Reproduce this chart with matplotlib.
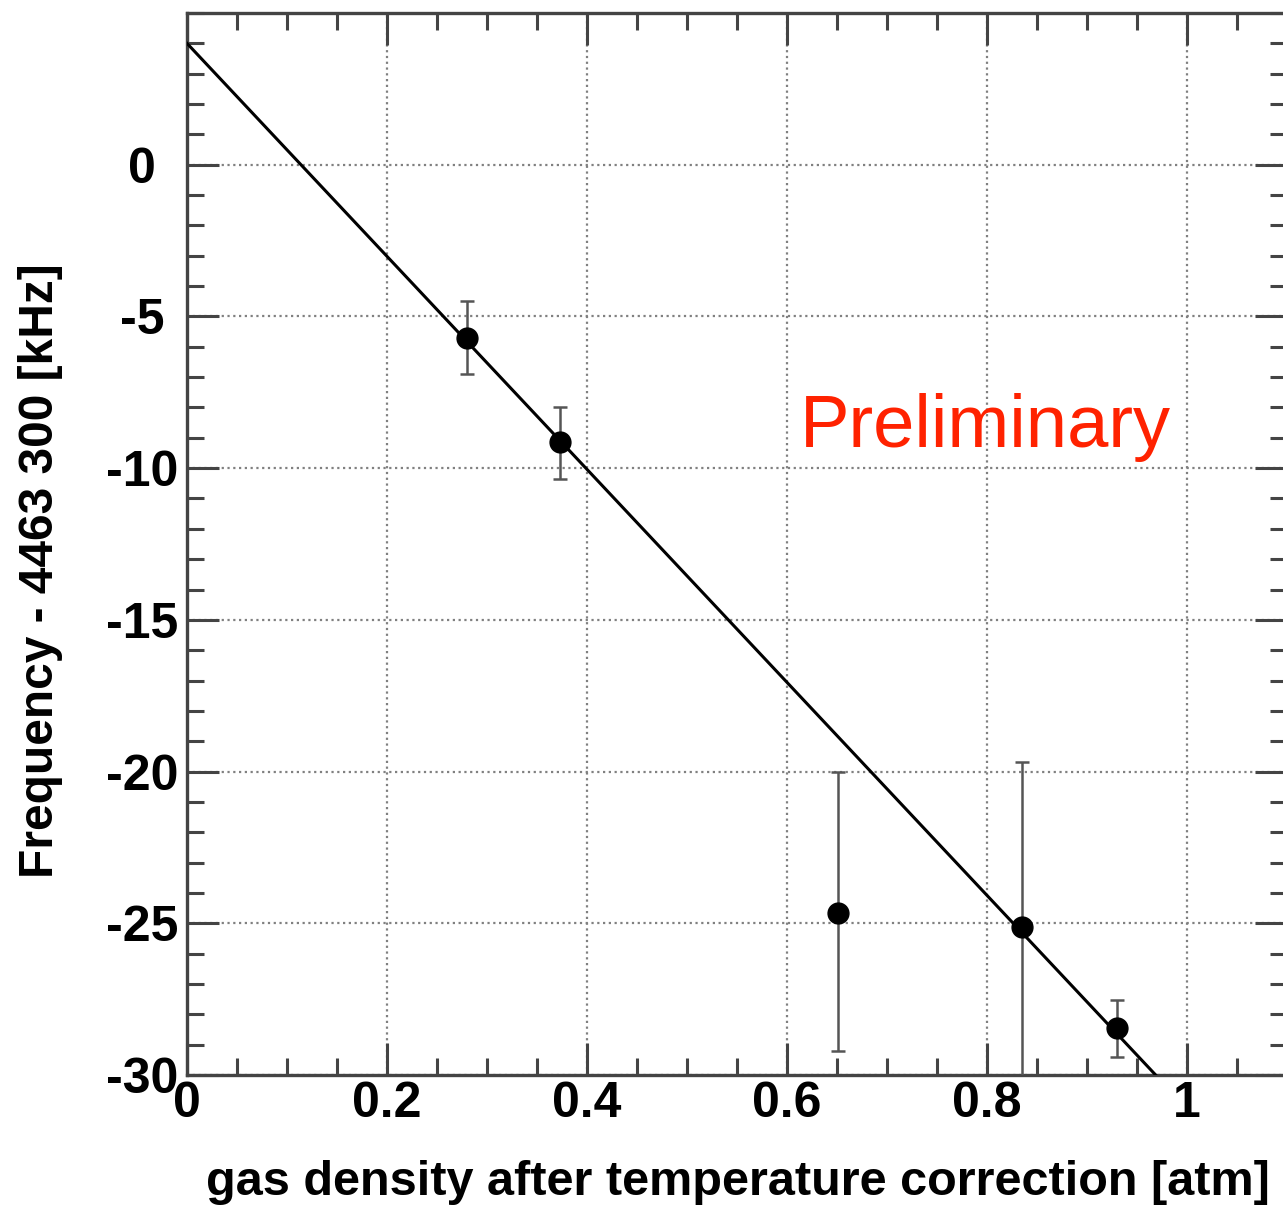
import matplotlib
matplotlib.use("Agg")
import matplotlib.pyplot as plt
import numpy as np
from matplotlib.ticker import MultipleLocator

# Data
density = [0.280, 0.373, 0.651, 0.835, 0.930]
freq = [-5.71, -9.14, -24.65, -25.12, -28.45]
err_lo = [1.19, 1.22, 4.55, 5.5, 0.97]
err_hi = [1.22, 1.15, 4.62, 5.45, 0.93]
fit_intercept = 4.0
fit_slope = -35.1

xticks = [0, 0.2, 0.4, 0.6, 0.8, 1.0]
xtick_labels = ["0", "0.2", "0.4", "0.6", "0.8", "1"]
yticks = [-30, -25, -20, -15, -10, -5, 0]
ytick_labels = ["-30", "-25", "-20", "-15", "-10", "-5", "0"]

xlabel = "gas density after temperature correction [atm]"
ylabel = "Frequency - 4463 300 [kHz]"
stamp = "Preliminary"

plt.rcParams['font.family'] = ['Liberation Sans', 'DejaVu Sans']

W, H = 1283, 1207
fig = plt.figure(figsize=(W / 100, H / 100), dpi=100)
ax = fig.add_axes([187 / W, 1 - 1075 / H, (1287 - 187) / W, (1075 - 13) / H])

ax.set_xlim(0, 1.1)
ax.set_ylim(-30, 5)

xf = np.array([0.0, 1.1])
ax.plot(xf, fit_intercept + fit_slope * xf, color='black', lw=2.2, zorder=3)

ax.errorbar(density, freq, yerr=[err_lo, err_hi], fmt='o', color='black',
            ms=15, ecolor='#555555', elinewidth=1.8, capsize=5, capthick=1.8,
            zorder=4)

ax.xaxis.set_minor_locator(MultipleLocator(0.05))
ax.yaxis.set_minor_locator(MultipleLocator(1))

ax.grid(True, which='major', color='#808080', linestyle=(0, (1, 1.6)), lw=1.6)
ax.set_axisbelow(True)

ax.tick_params(which='both', direction='in', top=True, right=True,
               width=2.2, color='#444444')
ax.tick_params(which='major', length=23)
ax.tick_params(which='minor', length=12)
ax.tick_params(axis='x', which='major', pad=4)
ax.tick_params(axis='y', which='major', pad=32.4)

ax.set_xticks(xticks)
ax.set_xticklabels(xtick_labels, fontweight='bold', fontsize=36)
ax.set_yticks(yticks)
ax.set_yticklabels(ytick_labels, fontweight='bold', fontsize=36, ha='center')

for sp in ax.spines.values():
    sp.set_linewidth(2.4)
    sp.set_color('#444444')

fig.text(1270 / W, 1 - 1195 / H, xlabel, fontsize=35, fontweight='bold',
         ha='right', va='baseline')
fig.text(41 / W, 1 - 571 / H, ylabel, fontsize=34.5, fontweight='bold',
         rotation=90, ha='center', va='center')

ax.text(0.613, -9.3, stamp, color='#ff2200', fontsize=53.5, ha='left',
        va='baseline')

fig.savefig("out.png", dpi=100)
